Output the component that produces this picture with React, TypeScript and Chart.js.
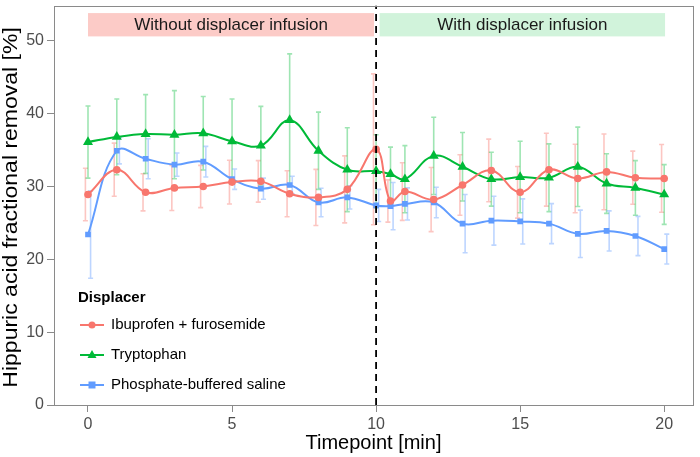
import React, { useEffect, useRef } from "react";
import { Chart, registerables } from "chart.js";

Chart.register(...registerables);

const TIMEPOINTS = [0, 1, 2, 3, 4, 5, 6, 7, 8, 9, 10, 10.5, 11, 12, 13, 14, 15, 16, 17, 18, 19, 20];

const IBU_MEAN = [28.9, 32.3, 29.2, 29.8, 30.0, 30.6, 30.7, 29.0, 28.5, 29.6, 35.1, 28.0, 29.3, 28.2, 30.2, 32.2, 29.2, 32.3, 31.1, 32.0, 31.2, 31.1];
const IBU_SD = [3.6, 3.65, 2.55, 3.1, 2.9, 3.0, 2.85, 3.15, 3.85, 4.6, 10.35, 2.9, 3.95, 4.4, 4.15, 4.3, 3.55, 5.0, 4.7, 5.2, 3.65, 4.65];

const TRP_MEAN = [36.1, 36.8, 37.2, 37.1, 37.3, 36.2, 35.6, 39.1, 34.9, 32.3, 32.1, 31.7, 31.0, 34.2, 32.7, 31.0, 31.3, 31.2, 32.7, 30.4, 29.8, 28.9];
const TRP_SD = [4.95, 5.2, 5.4, 6.05, 5.05, 5.8, 5.4, 9.1, 5.3, 5.75, 5.0, 3.7, 4.6, 5.3, 4.7, 3.7, 4.9, 4.65, 5.45, 4.1, 3.75, 4.1];

const PBS_MEAN = [23.4, 34.9, 33.8, 33.0, 33.4, 31.0, 29.7, 30.2, 27.8, 28.5, 27.4, 27.3, 27.6, 27.8, 24.9, 25.3, 25.2, 24.9, 23.5, 23.9, 23.2, 21.4];
const PBS_SD = [6.0, 1.8, 2.75, 1.6, 2.1, 1.4, 1.45, 1.2, 1.95, 1.6, 2.2, 3.25, 2.2, 2.1, 4.0, 3.35, 3.1, 2.75, 3.25, 2.75, 2.7, 2.05];

const SERIES_LABELS = ["Ibuprofen + furosemide", "Tryptophan", "Phosphate-buffered saline"];
const SERIES_COLORS = ["#F8766D", "#00BA38", "#619CFF"];
const SERIES_ERR_COLORS = ["rgba(248,118,109,0.42)", "rgba(0,186,56,0.38)", "rgba(97,156,255,0.42)"];
const SERIES_DODGE = [-0.09, 0, 0.09];

const X_TICKS = [0, 5, 10, 15, 20];
const Y_TICKS = [0, 10, 20, 30, 40, 50];
const X_MIN = -1.18;
const X_MAX = 21;
const Y_MIN = 0;
const Y_MAX = 54.8;

const X_TITLE = "Timepoint [min]";
const Y_TITLE = "Hippuric acid fractional removal [%]";

const DIVIDER_X = 10;
const PHASE_LABELS = ["Without displacer infusion", "With displacer infusion"];
const PHASE_X0 = [0, 10.12];
const PHASE_X1 = [9.93, 20.03];
const PHASE_Y0 = 50.6;
const PHASE_Y1 = 53.8;
const PHASE_COLORS = ["rgba(248,118,109,0.38)", "rgba(0,186,56,0.18)"];

const LEGEND_TITLE = "Displacer";
const FONT = "'Liberation Sans', Arial, Helvetica, sans-serif";

const MEANS = [IBU_MEAN, TRP_MEAN, PBS_MEAN];
const SDS = [IBU_SD, TRP_SD, PBS_SD];
const POINT_STYLES = ["circle", "triangle", "rect"];
const POINT_RADII = [3.8, 5.8, 4];

const customPlugin = {
  id: "custom",
  beforeDatasetsDraw(chart: any) {
    const { ctx } = chart;
    const xs = chart.scales.x;
    const ys = chart.scales.y;
    ctx.save();
    // phase boxes
    for (let i = 0; i < PHASE_LABELS.length; i++) {
      const x0 = xs.getPixelForValue(PHASE_X0[i]);
      const x1 = xs.getPixelForValue(PHASE_X1[i]);
      const y0 = ys.getPixelForValue(PHASE_Y1);
      const y1 = ys.getPixelForValue(PHASE_Y0);
      ctx.fillStyle = PHASE_COLORS[i];
      ctx.fillRect(x0, y0, x1 - x0, y1 - y0);
      ctx.fillStyle = "#1a1a1a";
      ctx.font = `17px ${FONT}`;
      ctx.textAlign = "center";
      ctx.textBaseline = "middle";
      ctx.fillText(PHASE_LABELS[i], (x0 + x1) / 2, (y0 + y1) / 2 + 1);
    }
    // error bars
    for (let s = 0; s < MEANS.length; s++) {
      ctx.strokeStyle = SERIES_ERR_COLORS[s];
      ctx.lineWidth = 1.6;
      for (let i = 0; i < TIMEPOINTS.length; i++) {
        const x = xs.getPixelForValue(TIMEPOINTS[i] + SERIES_DODGE[s]);
        const yt = ys.getPixelForValue(MEANS[s][i] + SDS[s][i]);
        const yb = ys.getPixelForValue(MEANS[s][i] - SDS[s][i]);
        ctx.beginPath();
        ctx.moveTo(x, yt);
        ctx.lineTo(x, yb);
        ctx.moveTo(x - 2.5, yt);
        ctx.lineTo(x + 2.5, yt);
        ctx.moveTo(x - 2.5, yb);
        ctx.lineTo(x + 2.5, yb);
        ctx.stroke();
      }
    }
    ctx.restore();
  },
  afterDatasetsDraw(chart: any) {
    const { ctx, chartArea } = chart;
    const xs = chart.scales.x;
    ctx.save();
    // dashed divider
    const dx = xs.getPixelForValue(DIVIDER_X);
    ctx.strokeStyle = "#000";
    ctx.lineWidth = 1.8;
    ctx.setLineDash([7, 5]);
    ctx.beginPath();
    ctx.moveTo(dx, chartArea.bottom);
    ctx.lineTo(dx, chartArea.top);
    ctx.stroke();
    ctx.setLineDash([]);
    // panel border
    ctx.strokeStyle = "#8a8a8a";
    ctx.lineWidth = 1;
    ctx.strokeRect(
      Math.round(chartArea.left) + 0.5,
      Math.round(chartArea.top) + 0.5,
      Math.round(chartArea.right - chartArea.left),
      Math.round(chartArea.bottom - chartArea.top)
    );
    // y axis title
    ctx.save();
    ctx.translate(12, (chartArea.top + chartArea.bottom) / 2 + 2);
    ctx.rotate(-Math.PI / 2);
    ctx.scale(1, 0.85);
    ctx.fillStyle = "#000";
    ctx.font = `23px ${FONT}`;
    ctx.textAlign = "center";
    ctx.textBaseline = "middle";
    ctx.fillText(Y_TITLE, 0, 0);
    ctx.restore();
    // legend
    const lx = chartArea.left + 24;
    ctx.fillStyle = "#000";
    ctx.font = `bold 15px ${FONT}`;
    ctx.textAlign = "left";
    ctx.textBaseline = "middle";
    ctx.fillText(LEGEND_TITLE, lx, chartArea.bottom - 107);
    for (let s = 0; s < SERIES_LABELS.length; s++) {
      const y = chartArea.bottom - 80 + s * 30;
      ctx.strokeStyle = SERIES_COLORS[s];
      ctx.fillStyle = SERIES_COLORS[s];
      ctx.lineWidth = 2;
      ctx.beginPath();
      ctx.moveTo(lx + 2, y);
      ctx.lineTo(lx + 26, y);
      ctx.stroke();
      const mx = lx + 14;
      ctx.beginPath();
      if (POINT_STYLES[s] === "circle") {
        ctx.arc(mx, y, 3.5, 0, Math.PI * 2);
      } else if (POINT_STYLES[s] === "triangle") {
        ctx.moveTo(mx, y - 5);
        ctx.lineTo(mx + 4.5, y + 3);
        ctx.lineTo(mx - 4.5, y + 3);
        ctx.closePath();
      } else {
        ctx.rect(mx - 3.5, y - 3.5, 7, 7);
      }
      ctx.fill();
      ctx.fillStyle = "#000";
      ctx.font = `15px ${FONT}`;
      ctx.fillText(SERIES_LABELS[s], lx + 33, y);
    }
    ctx.restore();
  },
};

export default function App() {
  const canvasRef = useRef<HTMLCanvasElement | null>(null);

  useEffect(() => {
    if (!canvasRef.current) return;
    Chart.defaults.font.family = FONT;
    const datasets = MEANS.map((means, s) => ({
      label: SERIES_LABELS[s],
      data: TIMEPOINTS.map((t, i) => ({ x: t, y: means[i] })),
      borderColor: SERIES_COLORS[s],
      backgroundColor: SERIES_COLORS[s],
      borderWidth: 2,
      tension: 0.4,
      pointStyle: POINT_STYLES[s],
      pointRadius: POINT_RADII[s],
      pointBorderWidth: 0,
      pointHoverRadius: POINT_RADII[s],
      fill: false,
      showLine: true,
    }));
    const chart = new Chart(canvasRef.current, {
      type: "line",
      data: { datasets },
      options: {
        animation: false,
        responsive: true,
        maintainAspectRatio: false,
        layout: { padding: { top: 2, right: 7, left: 0, bottom: 0 } },
        plugins: { legend: { display: false }, tooltip: { enabled: false } },
        scales: {
          x: {
            type: "linear",
            min: X_MIN,
            max: X_MAX,
            afterBuildTicks: (s: any) => {
              s.ticks = X_TICKS.map((v) => ({ value: v }));
            },
            afterFit: (s: any) => {
              s.height = 52;
              s.paddingLeft = 0;
              s.paddingRight = 0;
            },
            grid: { drawOnChartArea: false, drawTicks: true, tickLength: 7, color: "#8a8a8a" },
            border: { display: false },
            ticks: { font: { size: 16 }, color: "#4d4d4d", padding: 3, maxRotation: 0, autoSkip: false },
            title: {
              display: true,
              text: X_TITLE,
              font: { size: 20 },
              color: "#000",
              padding: { top: 0, bottom: 2 },
            },
          },
          y: {
            type: "linear",
            min: Y_MIN,
            max: Y_MAX,
            afterBuildTicks: (s: any) => {
              s.ticks = Y_TICKS.map((v) => ({ value: v }));
            },
            afterFit: (s: any) => {
              s.width = 54;
              s.paddingTop = 0;
              s.paddingBottom = 0;
            },
            grid: { drawOnChartArea: false, drawTicks: true, tickLength: 7, color: "#8a8a8a" },
            border: { display: false },
            ticks: { font: { size: 16 }, color: "#4d4d4d", padding: 3, autoSkip: false },
            title: { display: false },
          },
        },
      },
      plugins: [customPlugin],
    } as any);
    return () => chart.destroy();
  }, []);

  return (
    <div style={{ position: "absolute", left: 0, top: 0, width: 700, height: 457, background: "#fff" }}>
      <canvas ref={canvasRef} />
    </div>
  );
}
